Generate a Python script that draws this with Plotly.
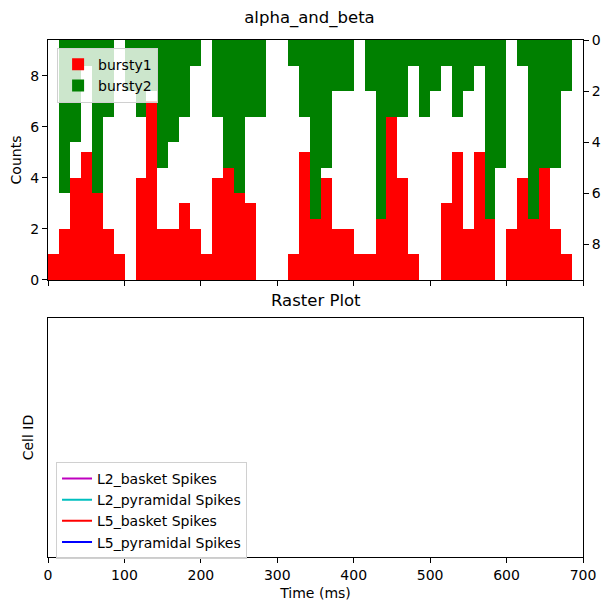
import plotly.graph_objects as go

# histogram bins (ms)
bin_start = 0.4
bin_width = 14.27

# spike counts per bin
bursty1_counts = [1, 2, 4, 5, 4, 2, 1, 0, 4, 7, 2, 2, 3, 2, 1, 4, 5, 4, 3, 0,
                  0, 0, 1, 5, 3, 4, 2, 2, 1, 1, 3, 7, 4, 1, 0, 0, 3, 5, 2, 5,
                  3, 0, 2, 4, 3, 5, 2, 1, 0]
bursty2_counts = [0, 6, 4, 1, 6, 3, 0, 2, 3, 2, 5, 4, 3, 1, 0, 3, 5, 6, 3, 3,
                  0, 0, 1, 3, 7, 5, 2, 2, 0, 2, 7, 3, 3, 1, 3, 2, 1, 3, 2, 1,
                  7, 5, 0, 1, 7, 5, 5, 2, 0]

bin_centers = [bin_start + bin_width * (i + 0.5) for i in range(len(bursty1_counts))]

cell_types = ["L2_basket", "L2_pyramidal", "L5_basket", "L5_pyramidal"]
cell_colors = ["#bf00bf", "#00bfbf", "#ff0000", "#0000ff"]

y_max = 9.41
font = dict(family="DejaVu Sans", size=14, color="black")
title_font = dict(family="DejaVu Sans", size=16.5, color="black")

fig = go.Figure()

fig.add_trace(go.Bar(x=bin_centers, y=bursty1_counts, width=bin_width,
                     marker=dict(color="red", line_width=0), name="bursty1",
                     xaxis="x", yaxis="y", legend="legend"))
fig.add_trace(go.Bar(x=bin_centers, y=bursty2_counts, width=bin_width,
                     marker=dict(color="green", line_width=0), name="bursty2",
                     xaxis="x", yaxis="y2", legend="legend"))

# raster plot has no spikes, just the legend entries
for ct, col in zip(cell_types, cell_colors):
    fig.add_trace(go.Scatter(x=[None], y=[None], mode="lines",
                             line=dict(color=col, width=2),
                             name=f"{ct} Spikes", xaxis="x2", yaxis="y3",
                             legend="legend2"))

axis_style = dict(showline=True, linecolor="black", linewidth=1, mirror=True,
                  ticks="outside", ticklen=5, tickcolor="black",
                  showgrid=False, zeroline=False, tickfont=font,
                  automargin=False)

# page body has an 8px margin, so the figure is a bit smaller than the window
fig.update_layout(
    width=603, height=603,
    margin=dict(l=40, r=28, t=32, b=54),
    plot_bgcolor="white", paper_bgcolor="white",
    font=font,
    barmode="overlay", bargap=0,
    title=dict(text="alpha_and_beta", x=0.5, xref="container", xanchor="center",
               y=1 - 9 / 603, yref="container", yanchor="middle",
               font=title_font),
    xaxis=dict(domain=[0, 1], anchor="y", range=[0, 700],
               tickvals=[0, 100, 200, 300, 400, 500, 600, 700],
               showticklabels=False, **axis_style),
    yaxis=dict(domain=[0.5358, 1], anchor="x", range=[0, y_max],
               tickvals=[0, 2, 4, 6, 8],
               title=dict(text="Counts", font=font, standoff=8), **axis_style),
    yaxis2=dict(overlaying="y", side="right", anchor="x", range=[y_max, 0],
                tickvals=[0, 2, 4, 6, 8], showline=False, ticks="outside",
                ticklen=5, tickcolor="black", showgrid=False, zeroline=False,
                tickfont=font, automargin=False),
    xaxis2=dict(domain=[0, 1], anchor="y3", range=[0, 700],
                tickvals=[0, 100, 200, 300, 400, 500, 600, 700],
                title=dict(text="Time (ms)", font=font, standoff=6), **axis_style),
    yaxis3=dict(domain=[0, 0.4623], anchor="x2", range=[0, 1],
                showticklabels=False, ticks="", automargin=False,
                title=dict(text="Cell ID", font=font, standoff=10),
                showline=True, linecolor="black", linewidth=1, mirror=True,
                showgrid=False, zeroline=False),
    legend=dict(x=0.017, y=0.985, xanchor="left", yanchor="top",
                bgcolor="rgba(255,255,255,0.8)", bordercolor="#d0d0d0",
                borderwidth=1, font=font, tracegroupgap=2),
    legend2=dict(x=0.015, y=0.184, xanchor="left", yanchor="top",
                 bgcolor="rgba(255,255,255,0.8)", bordercolor="#d0d0d0",
                 borderwidth=1, font=font, tracegroupgap=0),
    annotations=[dict(text="Raster Plot", x=0.5, y=0.4623, xref="paper",
                      yref="paper", yanchor="bottom", yshift=6, showarrow=False,
                      font=title_font)],
)

fig.write_html("out.html")
